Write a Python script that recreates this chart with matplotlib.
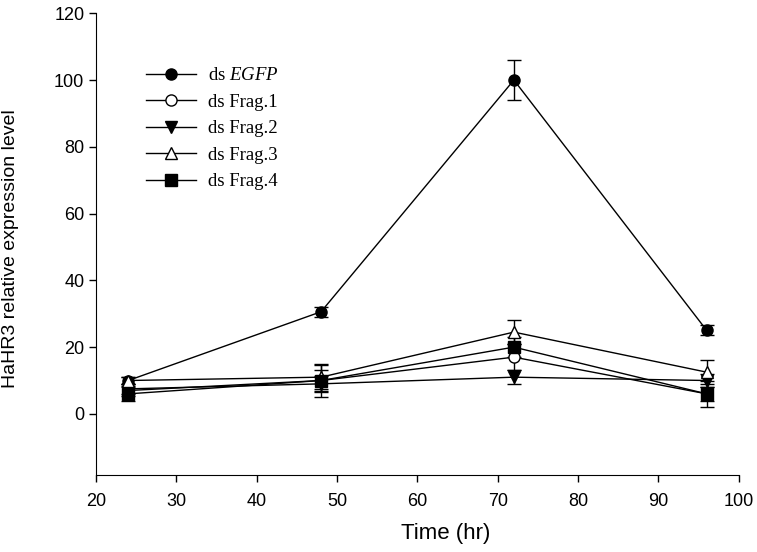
import numpy as np
import matplotlib.pyplot as plt

plt.rcParams['font.family'] = ['Liberation Sans', 'DejaVu Sans']
plt.rcParams['mathtext.fontset'] = 'custom'
plt.rcParams['mathtext.it'] = 'Liberation Serif:italic'
plt.rcParams['mathtext.rm'] = 'Liberation Serif'

# Data
time = [24, 48, 72, 96]
egfp = [10.0, 30.6, 100.0, 25.0]
egfp_err = [1.0, 1.5, 6.0, 1.5]
frag1 = [7.0, 10.0, 17.0, 6.0]
frag1_err = [1.5, 3.0, 4.0, 2.0]
frag2 = [7.5, 9.0, 11.0, 10.0]
frag2_err = [1.5, 2.5, 2.0, 2.0]
frag3 = [10.0, 11.0, 24.5, 12.5]
frag3_err = [1.0, 3.5, 3.5, 3.5]
frag4 = [6.0, 10.0, 20.0, 6.0]
frag4_err = [2.0, 5.0, 3.0, 4.0]

series = [
    ('ds $\\mathit{EGFP}$', egfp, egfp_err, 'o', 'black'),
    ('ds Frag.1', frag1, frag1_err, 'o', 'white'),
    ('ds Frag.2', frag2, frag2_err, 'v', 'black'),
    ('ds Frag.3', frag3, frag3_err, '^', 'white'),
    ('ds Frag.4', frag4, frag4_err, 's', 'black'),
]

fig = plt.figure(figsize=(7.57, 5.52), dpi=100)
ax = fig.add_axes([0.127, 0.1395, 0.849, 0.8365])

handles = []
for label, y, err, m, fc in series:
    ax.errorbar(time, y, yerr=err, color='black', lw=1, elinewidth=1,
                capsize=5, capthick=1, zorder=2, fmt='none')
    h, = ax.plot(time, y, color='black', lw=1, marker=m, markersize=8,
                 markerfacecolor=fc, markeredgecolor='black',
                 markeredgewidth=1, label=label, zorder=3)
    handles.append(h)

leg = ax.legend(handles=handles, loc='upper left', bbox_to_anchor=(0.052, 0.92),
                frameon=False, handlelength=2.65, labelspacing=0.5,
                handletextpad=0.65, prop={'family': 'Liberation Serif', 'size': 13.5})

ax.set_xlim(20, 100)
ax.set_ylim(-18.3, 120)
ax.set_xticks(np.arange(20, 101, 10))
ax.set_yticks(np.arange(0, 121, 20))
ax.spines['top'].set_visible(False)
ax.spines['right'].set_visible(False)
ax.tick_params(direction='out', length=5, width=1, labelsize=13)
ax.tick_params(axis='x', pad=8)

ax.set_xlabel('Time (hr)', fontsize=16)
ax.set_ylabel('HaHR3 relative expression level', fontsize=14)
ax.xaxis.set_label_coords(0.544, -0.105)
ax.yaxis.set_label_coords(-0.12, 0.49)

fig.savefig('out.png', dpi=100)
